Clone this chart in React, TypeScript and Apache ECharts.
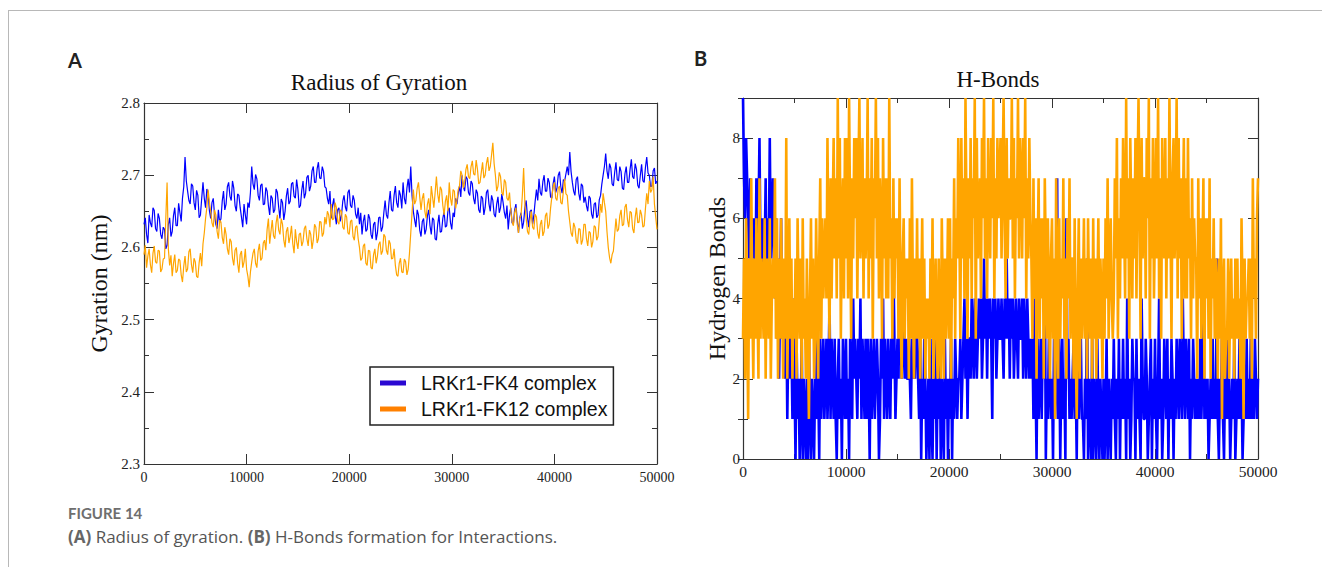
import React, { useEffect, useRef } from "react";
import * as echarts from "echarts";

// ---------- data ----------
const SERIES_NAMES = ["LRKr1-FK4 complex", "LRKr1-FK12 complex"];
const RG_TIME_STEP = 125; // ps between Rg samples
const HB_TIME_STEP = 100; // ps between H-bond samples
const TIME_MAX = 50000;

// Radius of gyration (nm), LRKr1-FK4 complex
const RG_FK4 = [
  2.632, 2.641, 2.618, 2.606, 2.645, 2.634, 2.628, 2.655, 2.651, 2.626,
  2.622, 2.647, 2.64, 2.618, 2.612, 2.628, 2.625, 2.598, 2.603, 2.632,
  2.641, 2.615, 2.622, 2.644, 2.655, 2.63, 2.63, 2.661, 2.648, 2.636,
  2.668, 2.684, 2.725, 2.692, 2.678, 2.665, 2.66, 2.688, 2.685, 2.662,
  2.652, 2.679, 2.672, 2.641, 2.645, 2.668, 2.69, 2.668, 2.655, 2.681,
  2.675, 2.651, 2.64, 2.662, 2.668, 2.645, 2.632, 2.626, 2.652, 2.634,
  2.64, 2.664, 2.678, 2.652, 2.66, 2.684, 2.69, 2.671, 2.665, 2.692,
  2.682, 2.658, 2.65, 2.674, 2.672, 2.655, 2.642, 2.628, 2.66, 2.645,
  2.632, 2.662, 2.655, 2.676, 2.712, 2.688, 2.68, 2.701, 2.695, 2.672,
  2.665, 2.686, 2.688, 2.659, 2.66, 2.683, 2.678, 2.658, 2.645, 2.672,
  2.668, 2.648, 2.652, 2.681, 2.676, 2.656, 2.64, 2.667, 2.662, 2.638,
  2.65, 2.671, 2.682, 2.66, 2.664, 2.688, 2.69, 2.671, 2.668, 2.694,
  2.68, 2.655, 2.658, 2.679, 2.692, 2.668, 2.675, 2.697, 2.7, 2.678,
  2.685, 2.706, 2.712, 2.69, 2.69, 2.709, 2.718, 2.696, 2.695, 2.712,
  2.705, 2.684, 2.682, 2.668, 2.66, 2.678, 2.64, 2.658, 2.668, 2.645,
  2.632, 2.652, 2.655, 2.636, 2.645, 2.664, 2.672, 2.656, 2.65, 2.676,
  2.68, 2.658, 2.655, 2.672, 2.665, 2.646, 2.64, 2.655, 2.632, 2.648,
  2.618, 2.636, 2.645, 2.622, 2.625, 2.646, 2.64, 2.618, 2.612, 2.632,
  2.635, 2.61, 2.62, 2.641, 2.642, 2.622, 2.628, 2.648, 2.665, 2.645,
  2.64, 2.662, 2.678, 2.652, 2.65, 2.672, 2.685, 2.662, 2.655, 2.679,
  2.672, 2.654, 2.69, 2.668, 2.66, 2.682, 2.695, 2.676, 2.712, 2.672,
  2.65, 2.638, 2.628, 2.652, 2.645, 2.624, 2.615, 2.636, 2.64, 2.618,
  2.625, 2.644, 2.652, 2.63, 2.618, 2.641, 2.638, 2.612, 2.61, 2.632,
  2.645, 2.621, 2.622, 2.64, 2.65, 2.628, 2.63, 2.651, 2.655, 2.634,
  2.625, 2.648, 2.642, 2.668, 2.66, 2.675, 2.685, 2.67, 2.7, 2.684,
  2.678, 2.698, 2.695, 2.676, 2.672, 2.692, 2.688, 2.668, 2.66, 2.68,
  2.675, 2.652, 2.648, 2.671, 2.668, 2.645, 2.655, 2.676, 2.68, 2.66,
  2.65, 2.672, 2.665, 2.646, 2.642, 2.66, 2.67, 2.648, 2.655, 2.674,
  2.662, 2.648, 2.64, 2.658, 2.625, 2.645, 2.655, 2.634, 2.632, 2.652,
  2.66, 2.638, 2.62, 2.641, 2.648, 2.626, 2.635, 2.655, 2.665, 2.642,
  2.628, 2.65, 2.652, 2.632, 2.645, 2.664, 2.68, 2.665, 2.695, 2.676,
  2.672, 2.691, 2.7, 2.678, 2.678, 2.696, 2.69, 2.67, 2.668, 2.688,
  2.698, 2.676, 2.682, 2.7, 2.705, 2.684, 2.675, 2.694, 2.692, 2.702,
  2.712, 2.7, 2.732, 2.705, 2.69, 2.678, 2.672, 2.694, 2.698, 2.675,
  2.665, 2.688, 2.685, 2.662, 2.67, 2.658, 2.65, 2.671, 2.668, 2.646,
  2.64, 2.66, 2.662, 2.641, 2.645, 2.666, 2.672, 2.688, 2.7, 2.712,
  2.73, 2.706, 2.695, 2.716, 2.71, 2.688, 2.685, 2.704, 2.718, 2.694,
  2.692, 2.712, 2.705, 2.682, 2.68, 2.702, 2.712, 2.69, 2.69, 2.708,
  2.722, 2.698, 2.695, 2.716, 2.708, 2.686, 2.682, 2.7, 2.715, 2.692,
  2.69, 2.711, 2.725, 2.703, 2.7, 2.684, 2.685, 2.706, 2.71, 2.688,
  2.692,
];

// Radius of gyration (nm), LRKr1-FK12 complex
const RG_FK12 = [
  2.59, 2.603, 2.572, 2.588, 2.598, 2.576, 2.565, 2.592, 2.602, 2.58,
  2.578, 2.596, 2.595, 2.566, 2.57, 2.584, 2.585, 2.64, 2.69, 2.598,
  2.575, 2.589, 2.56, 2.578, 2.59, 2.565, 2.568, 2.584, 2.582, 2.562,
  2.552, 2.574, 2.588, 2.566, 2.57, 2.594, 2.598, 2.576, 2.565, 2.585,
  2.58, 2.56, 2.558, 2.579, 2.592, 2.574, 2.605, 2.62, 2.64, 2.655,
  2.68, 2.662, 2.65, 2.634, 2.628, 2.652, 2.645, 2.622, 2.612, 2.638,
  2.635, 2.614, 2.605, 2.628, 2.618, 2.598, 2.59, 2.612, 2.608, 2.585,
  2.575, 2.596, 2.6, 2.578, 2.565, 2.59, 2.595, 2.572, 2.58, 2.598,
  2.57, 2.56, 2.545, 2.566, 2.58, 2.592, 2.598, 2.578, 2.572, 2.595,
  2.605, 2.582, 2.585, 2.606, 2.61, 2.596, 2.625, 2.64, 2.605, 2.622,
  2.638, 2.616, 2.612, 2.634, 2.645, 2.624, 2.618, 2.64, 2.632, 2.61,
  2.6, 2.622, 2.628, 2.606, 2.615, 2.63, 2.605, 2.592, 2.625, 2.608,
  2.598, 2.618, 2.62, 2.602, 2.608, 2.626, 2.63, 2.612, 2.602, 2.624,
  2.618, 2.598, 2.61, 2.632, 2.628, 2.606, 2.612, 2.636, 2.635, 2.615,
  2.62, 2.642, 2.632, 2.65, 2.645, 2.628, 2.66, 2.638, 2.64, 2.662,
  2.655, 2.636, 2.632, 2.652, 2.65, 2.628, 2.625, 2.646, 2.642, 2.62,
  2.618, 2.636, 2.638, 2.615, 2.61, 2.628, 2.63, 2.612, 2.6, 2.582,
  2.585, 2.602, 2.605, 2.578, 2.575, 2.596, 2.595, 2.572, 2.57, 2.59,
  2.598, 2.578, 2.588, 2.604, 2.608, 2.59, 2.595, 2.618, 2.615, 2.596,
  2.59, 2.61, 2.605, 2.584, 2.585, 2.598, 2.575, 2.562, 2.56, 2.578,
  2.585, 2.566, 2.565, 2.584, 2.58, 2.562, 2.57, 2.592, 2.62, 2.648,
  2.68, 2.66, 2.665, 2.682, 2.69, 2.67, 2.652, 2.668, 2.675, 2.65,
  2.64, 2.66, 2.668, 2.646, 2.685, 2.67, 2.655, 2.676, 2.698, 2.674,
  2.662, 2.684, 2.68, 2.658, 2.645, 2.664, 2.672, 2.65, 2.69, 2.668,
  2.658, 2.68, 2.678, 2.654, 2.665, 2.68, 2.685, 2.706, 2.7, 2.682,
  2.69, 2.708, 2.715, 2.698, 2.695, 2.712, 2.72, 2.702, 2.7, 2.721,
  2.708, 2.688, 2.69, 2.704, 2.718, 2.696, 2.7, 2.716, 2.725, 2.706,
  2.712, 2.728, 2.745, 2.716, 2.7, 2.678, 2.685, 2.704, 2.698, 2.676,
  2.672, 2.694, 2.69, 2.668, 2.665, 2.676, 2.65, 2.636, 2.63, 2.648,
  2.655, 2.632, 2.62, 2.64, 2.645, 2.672, 2.71, 2.66, 2.64, 2.622,
  2.618, 2.638, 2.65, 2.628, 2.625, 2.646, 2.642, 2.62, 2.612, 2.632,
  2.638, 2.616, 2.622, 2.644, 2.648, 2.626, 2.632, 2.654, 2.67, 2.684,
  2.69, 2.668, 2.665, 2.682, 2.685, 2.662, 2.66, 2.678, 2.695, 2.674,
  2.672, 2.65, 2.635, 2.62, 2.615, 2.634, 2.628, 2.61, 2.605, 2.626,
  2.625, 2.604, 2.61, 2.632, 2.632, 2.612, 2.602, 2.622, 2.62, 2.6,
  2.608, 2.63, 2.628, 2.61, 2.615, 2.638, 2.66, 2.648, 2.675, 2.662,
  2.65, 2.622, 2.6, 2.586, 2.578, 2.59, 2.595, 2.618, 2.64, 2.622,
  2.625, 2.644, 2.652, 2.63, 2.632, 2.656, 2.66, 2.638, 2.628, 2.65,
  2.648, 2.626, 2.62, 2.642, 2.655, 2.634, 2.635, 2.652, 2.645, 2.628,
  2.63, 2.654, 2.675, 2.66, 2.692, 2.676, 2.68, 2.698, 2.66, 2.642,
  2.625,
];

// Number of hydrogen bonds, LRKr1-FK4 complex (one row per 1000 ps)
const HB_FK4 = [
  9, 7, 6, 8, 7, 6, 5, 7, 4, 6,
  5, 6, 4, 7, 5, 6, 8, 5, 6, 4,
  6, 5, 7, 4, 6, 5, 8, 5, 6, 7,
  5, 4, 6, 3, 5, 2, 4, 6, 3, 4,
  3, 2, 4, 1, 3, 5, 2, 3, 1, 4,
  2, 0, 3, 1, 2, 0, 1, 3, 0, 2,
  1, 0, 2, 0, 3, 1, 0, 2, 1, 0,
  2, 1, 5, 2, 0, 3, 1, 2, 3, 1,
  2, 3, 1, 2, 4, 1, 3, 2, 1, 3,
  1, 0, 2, 3, 1, 2, 0, 3, 2, 1,
  3, 1, 2, 0, 3, 2, 1, 4, 2, 3,
  2, 1, 3, 2, 4, 1, 3, 2, 1, 3,
  1, 3, 2, 0, 3, 1, 2, 3, 1, 2,
  3, 2, 0, 1, 3, 2, 4, 1, 3, 2,
  1, 3, 2, 1, 3, 2, 5, 3, 1, 2,
  3, 2, 5, 3, 2, 3, 4, 2, 3, 2,
  2, 3, 2, 1, 3, 2, 3, 2, 4, 3,
  2, 1, 3, 0, 2, 1, 3, 2, 0, 1,
  2, 0, 3, 1, 0, 2, 1, 3, 0, 2,
  1, 3, 0, 2, 1, 0, 3, 1, 2, 0,
  2, 1, 3, 0, 2, 1, 3, 2, 1, 2,
  2, 3, 1, 2, 3, 4, 2, 3, 1, 3,
  3, 2, 4, 3, 2, 4, 3, 2, 3, 4,
  3, 4, 2, 3, 5, 3, 4, 2, 4, 3,
  4, 3, 1, 4, 3, 4, 2, 3, 4, 3,
  3, 4, 3, 2, 4, 3, 5, 3, 4, 2,
  4, 3, 4, 2, 3, 4, 3, 2, 4, 3,
  3, 4, 2, 4, 3, 2, 4, 3, 2, 3,
  2, 3, 1, 4, 2, 0, 3, 1, 2, 3,
  1, 3, 2, 5, 0, 2, 1, 3, 2, 1,
  2, 0, 3, 1, 2, 7, 1, 3, 0, 2,
  3, 1, 2, 0, 6, 2, 3, 1, 2, 1,
  2, 3, 1, 2, 0, 3, 1, 2, 3, 1,
  1, 0, 2, 1, 5, 0, 2, 1, 0, 3,
  0, 2, 1, 0, 3, 1, 0, 2, 1, 0,
  2, 0, 1, 3, 0, 2, 1, 0, 2, 1,
  3, 1, 0, 2, 1, 3, 0, 2, 1, 3,
  1, 2, 0, 4, 1, 2, 0, 1, 3, 2,
  2, 0, 3, 1, 2, 1, 0, 4, 2, 1,
  1, 3, 2, 0, 1, 2, 3, 0, 2, 1,
  3, 1, 0, 2, 4, 1, 2, 0, 1, 3,
  2, 1, 3, 0, 2, 1, 3, 2, 0, 2,
  1, 3, 2, 1, 3, 2, 1, 4, 2, 1,
  3, 2, 1, 3, 0, 2, 1, 3, 2, 1,
  2, 1, 2, 1, 3, 1, 2, 4, 1, 2,
  1, 2, 0, 1, 2, 1, 3, 1, 2, 1,
  5, 1, 0, 2, 1, 3, 1, 0, 2, 1,
  3, 1, 2, 0, 1, 2, 1, 3, 0, 1,
  2, 1, 3, 1, 2, 0, 1, 2, 1, 3,
  1, 2, 1, 3, 1, 2, 1, 3, 2, 1,
  2,
];

// Number of hydrogen bonds, LRKr1-FK12 complex (one row per 1000 ps)
const HB_FK12 = [
  3, 5, 2, 6, 4, 1, 5, 3, 7, 4,
  2, 5, 3, 6, 4, 2, 7, 3, 5, 4,
  3, 6, 2, 5, 4, 3, 6, 2, 4, 5,
  4, 7, 3, 6, 2, 5, 3, 6, 4, 2,
  5, 3, 8, 2, 4, 6, 3, 5, 2, 4,
  3, 5, 2, 6, 4, 3, 5, 2, 6, 3,
  4, 2, 5, 3, 1, 4, 6, 3, 5, 2,
  3, 6, 4, 2, 5, 7, 3, 6, 4, 5,
  6, 4, 8, 5, 3, 7, 4, 6, 8, 5,
  7, 4, 9, 5, 8, 3, 6, 7, 4, 8,
  5, 8, 4, 9, 6, 3, 7, 5, 8, 6,
  8, 4, 7, 9, 5, 6, 8, 4, 7, 5,
  6, 9, 4, 7, 5, 8, 3, 7, 6, 9,
  5, 8, 4, 7, 6, 3, 8, 5, 7, 4,
  7, 4, 9, 5, 6, 3, 7, 4, 6, 5,
  6, 3, 7, 4, 2, 5, 6, 3, 5, 4,
  5, 2, 6, 3, 7, 4, 2, 5, 3, 6,
  3, 5, 2, 4, 6, 3, 5, 2, 4, 3,
  4, 2, 5, 3, 6, 2, 4, 5, 3, 2,
  5, 3, 2, 6, 4, 2, 5, 3, 4, 6,
  3, 6, 2, 5, 4, 7, 3, 6, 5, 8,
  6, 3, 8, 5, 7, 4, 9, 6, 3, 7,
  5, 8, 4, 7, 6, 9, 3, 8, 5, 6,
  7, 4, 8, 6, 9, 5, 7, 4, 8, 6,
  5, 8, 6, 9, 4, 7, 5, 8, 6, 7,
  8, 5, 7, 9, 6, 4, 8, 5, 7, 6,
  6, 9, 5, 8, 4, 7, 6, 9, 5, 8,
  7, 5, 8, 6, 9, 4, 7, 5, 8, 6,
  5, 3, 7, 4, 6, 2, 5, 7, 3, 6,
  4, 6, 2, 7, 5, 3, 6, 4, 2, 5,
  6, 3, 5, 1, 7, 4, 2, 6, 3, 5,
  4, 7, 3, 5, 2, 6, 4, 7, 3, 5,
  5, 2, 6, 3, 1, 4, 6, 2, 5, 3,
  4, 6, 3, 5, 2, 6, 4, 3, 5, 2,
  6, 3, 5, 2, 4, 6, 3, 5, 4, 2,
  5, 3, 6, 4, 7, 3, 5, 6, 4, 3,
  4, 7, 5, 8, 3, 6, 4, 7, 5, 8,
  6, 4, 9, 5, 7, 3, 8, 6, 4, 7,
  5, 8, 4, 7, 9, 6, 3, 8, 5, 7,
  7, 4, 8, 6, 9, 3, 7, 5, 8, 4,
  6, 8, 5, 9, 4, 7, 3, 8, 6, 5,
  8, 4, 7, 5, 9, 6, 3, 7, 8, 5,
  6, 9, 4, 8, 5, 7, 3, 6, 8, 4,
  7, 4, 8, 5, 6, 3, 7, 4, 6, 5,
  5, 2, 7, 4, 6, 3, 5, 7, 2, 6,
  4, 6, 3, 7, 2, 5, 4, 6, 3, 5,
  4, 2, 5, 3, 6, 1, 4, 5, 2, 3,
  3, 5, 2, 4, 5, 3, 4, 2, 5, 3,
  5, 3, 4, 2, 6, 4, 1, 5, 3, 4,
  4, 5, 3, 5, 2, 7, 4, 5, 3, 6,
  7,
];

// ---------- styling ----------
const COLOR_FK4 = "#0000ff";
const COLOR_FK12 = "#ffa500";
const LEGEND_FK4 = "#2a08d2";
const LEGEND_FK12 = "#ff8000";
const AXIS_COLOR = "#333";
const SERIF = "'Liberation Serif', 'Times New Roman', serif";
const SANS = "'Liberation Sans', Arial, sans-serif";
const CAPTION_FONT = "'Open Sans', Lato, sans-serif";
const LABEL_FONT = "Lato, 'Open Sans', sans-serif";

const toPairs = (arr: number[], step: number) => arr.map((v, i) => [i * step, v]);

function baseX(gridIndex: number, position: "bottom" | "top", showLabel: boolean, minor: boolean, fontSize: number, margin: number) {
  return {
    type: "value",
    gridIndex,
    position,
    min: 0,
    max: TIME_MAX,
    interval: 10000,
    axisLine: { show: true, onZero: false, lineStyle: { color: AXIS_COLOR, width: 1.2 } },
    axisTick: { show: true, inside: true, length: 10, lineStyle: { color: AXIS_COLOR } },
    minorTick: { show: minor, splitNumber: 2, length: 5, lineStyle: { color: AXIS_COLOR } },
    axisLabel: { show: showLabel, fontFamily: SERIF, fontSize, color: "#222", margin, formatter: (v: number) => String(v) },
    splitLine: { show: false },
    minorSplitLine: { show: false },
  };
}

export default function App() {
  const ref = useRef<HTMLDivElement>(null);

  useEffect(() => {
    document.body.style.margin = "0";
    if (!ref.current) return;
    const chart = echarts.init(ref.current, null, { renderer: "svg" });

    const yLabelStyle = { fontFamily: SERIF, fontSize: 15, color: "#222" };
    const hbLine = (color: string) => ({ color, width: 2.6, join: "bevel", cap: "butt" });

    const option: any = {
      animation: false,
      backgroundColor: "#ffffff",
      grid: [
        { left: 144, top: 103, width: 513, height: 361 },
        { left: 743, top: 98, width: 515, height: 361 },
      ],
      xAxis: [
        baseX(0, "bottom", true, false, 14, 6),
        baseX(0, "top", false, false, 14, 6),
        baseX(1, "bottom", true, true, 15.5, 4),
        baseX(1, "top", false, true, 15.5, 4),
      ],
      yAxis: [
        {
          type: "value",
          gridIndex: 0,
          position: "left",
          min: 2.3,
          max: 2.8,
          interval: 0.1,
          name: "Gyration (nm)",
          nameLocation: "middle",
          nameGap: 33,
          nameTextStyle: { fontFamily: SERIF, fontSize: 24, color: "#111" },
          axisLine: { show: true, onZero: false, lineStyle: { color: AXIS_COLOR, width: 1.2 } },
          axisTick: { show: true, inside: true, length: 10, lineStyle: { color: AXIS_COLOR } },
          minorTick: { show: true, splitNumber: 2, length: 5, lineStyle: { color: AXIS_COLOR } },
          axisLabel: { ...yLabelStyle, margin: 4, formatter: (v: number) => v.toFixed(1) },
          splitLine: { show: false },
        },
        {
          type: "value",
          gridIndex: 0,
          position: "right",
          min: 2.3,
          max: 2.8,
          interval: 0.1,
          axisLine: { show: true, onZero: false, lineStyle: { color: AXIS_COLOR, width: 1.2 } },
          axisTick: { show: true, inside: true, length: 10, lineStyle: { color: AXIS_COLOR } },
          minorTick: { show: true, splitNumber: 2, length: 5, lineStyle: { color: AXIS_COLOR } },
          axisLabel: { show: false },
          splitLine: { show: false },
        },
        {
          type: "value",
          gridIndex: 1,
          position: "left",
          min: 0,
          max: 9,
          interval: 2,
          name: "Hydrogen Bonds",
          nameLocation: "middle",
          nameGap: 14,
          nameTextStyle: { fontFamily: SERIF, fontSize: 24, color: "#111" },
          axisLine: { show: true, onZero: false, lineStyle: { color: AXIS_COLOR, width: 1.2 } },
          axisTick: { show: true, inside: true, length: 10, lineStyle: { color: AXIS_COLOR } },
          axisLabel: { ...yLabelStyle, margin: 3, formatter: (v: number) => (v % 2 === 0 ? String(v) : "") },
          splitLine: { show: false },
        },
        {
          type: "value",
          gridIndex: 1,
          position: "left",
          min: 0,
          max: 9,
          interval: 1,
          axisLine: { show: false },
          axisTick: { show: true, inside: true, length: 5, lineStyle: { color: AXIS_COLOR } },
          axisLabel: { show: false },
          splitLine: { show: false },
        },
        {
          type: "value",
          gridIndex: 1,
          position: "right",
          min: 0,
          max: 9,
          interval: 2,
          axisLine: { show: true, onZero: false, lineStyle: { color: AXIS_COLOR, width: 1.2 } },
          axisTick: { show: true, inside: true, length: 10, lineStyle: { color: AXIS_COLOR } },
          axisLabel: { show: false },
          splitLine: { show: false },
        },
        {
          type: "value",
          gridIndex: 1,
          position: "right",
          min: 0,
          max: 9,
          interval: 1,
          axisLine: { show: false },
          axisTick: { show: true, inside: true, length: 5, lineStyle: { color: AXIS_COLOR } },
          axisLabel: { show: false },
          splitLine: { show: false },
        },
      ],
      legend: {
        left: 370,
        top: 367,
        orient: "vertical",
        backgroundColor: "#ffffff",
        borderColor: "#222",
        borderWidth: 1.5,
        borderRadius: 0,
        padding: [6, 6, 6, 10],
        itemGap: 6,
        itemWidth: 26,
        itemHeight: 5,
        icon: "rect",
        selectedMode: false,
        textStyle: { fontFamily: SANS, fontSize: 19.5, color: "#111", lineHeight: 20, padding: [0, 0, 0, 10] },
        data: [
          { name: SERIES_NAMES[0], itemStyle: { color: LEGEND_FK4 } },
          { name: SERIES_NAMES[1], itemStyle: { color: LEGEND_FK12 } },
        ],
      },
      series: [
        {
          name: SERIES_NAMES[0],
          type: "line",
          xAxisIndex: 0,
          yAxisIndex: 0,
          showSymbol: false,
          data: toPairs(RG_FK4, RG_TIME_STEP),
          lineStyle: { color: COLOR_FK4, width: 1.2 },
          itemStyle: { color: COLOR_FK4 },
        },
        {
          name: SERIES_NAMES[1],
          type: "line",
          xAxisIndex: 0,
          yAxisIndex: 0,
          showSymbol: false,
          data: toPairs(RG_FK12, RG_TIME_STEP),
          lineStyle: { color: COLOR_FK12, width: 1.2 },
          itemStyle: { color: COLOR_FK12 },
        },
        {
          name: SERIES_NAMES[0],
          type: "line",
          xAxisIndex: 2,
          yAxisIndex: 2,
          showSymbol: false,
          data: toPairs(HB_FK4, HB_TIME_STEP),
          lineStyle: hbLine(COLOR_FK4),
          itemStyle: { color: COLOR_FK4 },
        },
        {
          name: SERIES_NAMES[1],
          type: "line",
          xAxisIndex: 2,
          yAxisIndex: 2,
          showSymbol: false,
          data: toPairs(HB_FK12, HB_TIME_STEP),
          lineStyle: hbLine(COLOR_FK12),
          itemStyle: { color: COLOR_FK12 },
        },
      ],
      graphic: [
        { type: "line", shape: { x1: 8, y1: 10.5, x2: 1322, y2: 10.5 }, style: { stroke: "#b8b8b8", lineWidth: 1 }, silent: true },
        { type: "line", shape: { x1: 8.5, y1: 10, x2: 8.5, y2: 567 }, style: { stroke: "#b8b8b8", lineWidth: 1 }, silent: true },
        {
          type: "text", x: 68, y: 60,
          style: { text: "A", fontFamily: LABEL_FONT, fontWeight: "bold", fontSize: 20, fill: "#222", textVerticalAlign: "middle" },
        },
        {
          type: "text", x: 694, y: 58,
          style: { text: "B", fontFamily: LABEL_FONT, fontWeight: "bold", fontSize: 20, fill: "#222", textVerticalAlign: "middle" },
        },
        {
          type: "text", x: 379, y: 82,
          style: { text: "Radius of Gyration", fontFamily: SERIF, fontSize: 23, fill: "#111", textAlign: "center", textVerticalAlign: "middle" },
        },
        {
          type: "text", x: 998, y: 79,
          style: { text: "H-Bonds", fontFamily: SERIF, fontSize: 23, fill: "#111", textAlign: "center", textVerticalAlign: "middle" },
        },
        {
          type: "text", x: 68, y: 513,
          style: { text: "FIGURE 14", fontFamily: LABEL_FONT, fontWeight: "bold", fontSize: 15, fill: "#6e6e6e", textVerticalAlign: "middle" },
        },
        {
          type: "text", x: 68, y: 536,
          style: {
            text: "{b|(A)} Radius of gyration. {b|(B)} H-Bonds formation for Interactions.",
            fontFamily: CAPTION_FONT, fontSize: 17, fill: "#555", textVerticalAlign: "middle",
            rich: { b: { fontFamily: CAPTION_FONT, fontSize: 17, fontWeight: "bold", fill: "#666" } },
          },
        },
      ],
    };

    chart.setOption(option);
    return () => chart.dispose();
  }, []);

  return <div ref={ref} style={{ position: "absolute", left: 0, top: 0, width: 1322, height: 567 }} />;
}
